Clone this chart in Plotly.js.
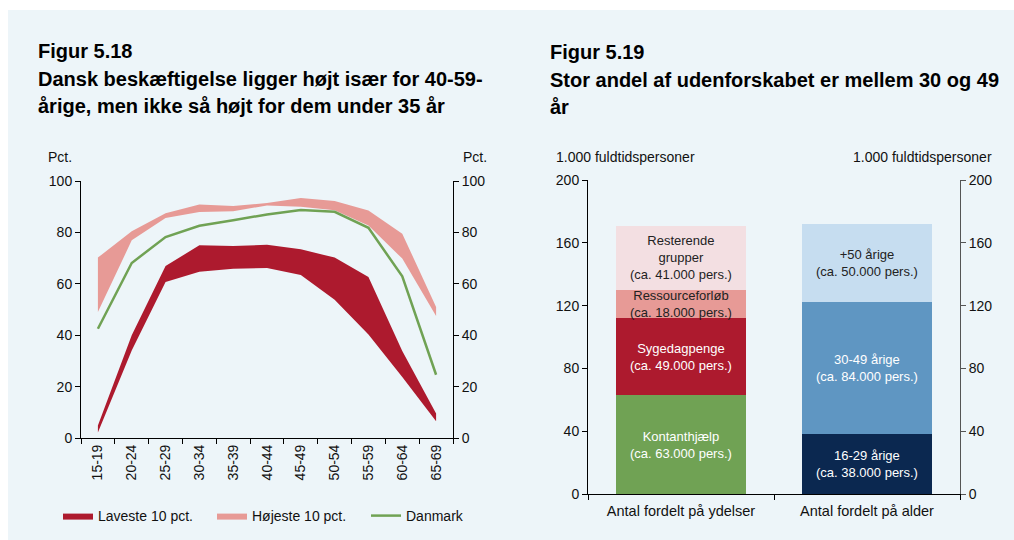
<!DOCTYPE html>
<html>
<head>
<meta charset="utf-8">
<script src="https://cdn.plot.ly/plotly-3.0.1.min.js"></script>
<style>
html,body{margin:0;padding:0;background:#fff;}
#chart{width:1014px;height:540px;}
</style>
</head>
<body>
<div id="chart"></div>
<script>
// ---------- Data: Figur 5.18 ----------
const ageGroups = ['15-19','20-24','25-29','30-34','35-39','40-44','45-49','50-54','55-59','60-64','65-69'];
const lowestTop    = [4.9, 40.0, 66.9, 75.0, 74.7, 75.2, 73.4, 70.2, 62.6, 33.9, 9.5];
const lowestBottom = [2.1, 34.0, 60.7, 64.7, 65.9, 66.1, 63.4, 53.8, 40.3, 23.7, 6.5];
const highestTop    = [70.2, 80.4, 87.5, 90.9, 90.3, 91.4, 93.4, 92.2, 88.5, 79.5, 51.0];
const highestBottom = [49.0, 76.9, 85.6, 87.9, 88.2, 90.5, 90.0, 88.6, 82.7, 69.8, 47.5];
const denmark = [42.5, 68.1, 78.2, 82.6, 84.7, 87.0, 88.7, 88.0, 81.8, 62.9, 24.6];

// ---------- Data: Figur 5.19 ----------
const barCategories = ['Antal fordelt på ydelser', 'Antal fordelt på alder'];
const benefitNames  = ['Kontanthjælp', 'Sygedagpenge', 'Ressourceforløb', 'Resterende<br>grupper'];
const benefitValues = [63, 49, 18, 41];
const ageNames  = ['16-29 årige', '30-49 årige', '+50 årige'];
const ageValues = [38, 84, 50];

// ---------- Styles ----------
const FONT = 'Liberation Sans, Arial, sans-serif';
const darkRed = '#AD1A2E';
const pink = '#E79A96';
const green = '#70A254';
const benefitColors = ['#70A254', '#AD1A2E', '#E79A96', '#F3DFE2'];
const benefitTextColors = ['#ffffff', '#ffffff', '#222222', '#222222'];
const ageColors = ['#0B2850', '#5F96C2', '#C6DDF0'];
const ageTextColors = ['#ffffff', '#ffffff', '#222222'];

const W = 1014, H = 540;
const px = v => v / W;
const py = v => (H - v) / H;

const traces = [];
// Højeste 10 pct. band
traces.push({x: ageGroups, y: highestBottom, xaxis: 'x', yaxis: 'y', mode: 'lines',
  line: {width: 0, color: pink}, showlegend: false, hoverinfo: 'skip'});
traces.push({x: ageGroups, y: highestTop, xaxis: 'x', yaxis: 'y', mode: 'lines',
  line: {width: 0, color: pink}, fill: 'tonexty', fillcolor: pink,
  name: 'Højeste 10 pct.', legendrank: 2});
// Laveste 10 pct. band
traces.push({x: ageGroups, y: lowestBottom, xaxis: 'x', yaxis: 'y', mode: 'lines',
  line: {width: 0, color: darkRed}, showlegend: false, hoverinfo: 'skip'});
traces.push({x: ageGroups, y: lowestTop, xaxis: 'x', yaxis: 'y', mode: 'lines',
  line: {width: 0, color: darkRed}, fill: 'tonexty', fillcolor: darkRed,
  name: 'Laveste 10 pct.', legendrank: 1});
// Danmark
traces.push({x: ageGroups, y: denmark, xaxis: 'x', yaxis: 'y', mode: 'lines',
  line: {width: 2.5, color: green}, name: 'Danmark', legendrank: 3});
// dummy for right axis of left chart
traces.push({x: [ageGroups[0]], y: [0], xaxis: 'x', yaxis: 'y2', mode: 'none',
  showlegend: false, hoverinfo: 'skip'});

// Stacked bars
benefitNames.forEach((n, i) => {
  traces.push({type: 'bar', x: [barCategories[0]], y: [benefitValues[i]], xaxis: 'x3', yaxis: 'y3',
    marker: {color: benefitColors[i], line: {width: 0}}, name: n, showlegend: false});
});
ageNames.forEach((n, i) => {
  traces.push({type: 'bar', x: [barCategories[1]], y: [ageValues[i]], xaxis: 'x3', yaxis: 'y3',
    marker: {color: ageColors[i], line: {width: 0}}, name: n, showlegend: false});
});
traces.push({x: [barCategories[0]], y: [0], xaxis: 'x3', yaxis: 'y4', mode: 'none', type: 'scatter',
  showlegend: false, hoverinfo: 'skip'});

const annotations = [];
function addStackLabels(cat, names, values, colors) {
  let cum = 0;
  values.forEach((v, i) => {
    annotations.push({xref: 'x3', yref: 'y3', x: cat, y: cum + v / 2,
      text: names[i] + '<br>(ca. ' + v + '.000 pers.)', showarrow: false,
      font: {family: FONT, size: 13, color: colors[i]}, align: 'center'});
    cum += v;
  });
}
addStackLabels(barCategories[0], benefitNames, benefitValues, benefitTextColors);
addStackLabels(barCategories[1], ageNames, ageValues, ageTextColors);

function title(text, x, y, bold) {
  annotations.push({xref: 'paper', yref: 'paper', x: px(x), y: py(y), xanchor: 'left', yanchor: 'middle',
    text: bold ? '<b>' + text + '</b>' : text, showarrow: false,
    font: {family: FONT, size: 20, color: '#000'}});
}
title('Figur 5.18', 36, 51, true);
title('Dansk beskæftigelse ligger højt især for 40-59-', 36, 79, true);
title('årige, men ikke så højt for dem under 35 år', 36, 106, true);
title('Figur 5.19', 548, 52, true);
title('Stor andel af udenforskabet er mellem 30 og 49', 548, 80, true);
title('år', 548, 107, true);

function small(text, x, y) {
  annotations.push({xref: 'paper', yref: 'paper', x: px(x), y: py(y), xanchor: 'center', yanchor: 'middle',
    text: text, showarrow: false, font: {family: FONT, size: 14, color: '#111'}});
}
small('Pct.', 60, 157);
small('Pct.', 475, 157);
small('1.000 fuldtidspersoner', 625, 157);
small('1.000 fuldtidspersoner', 922, 157);

const tickFont = {family: FONT, size: 14, color: '#111'};
const axBase = {showgrid: false, zeroline: false, showline: true, linecolor: '#000', linewidth: 1,
  ticks: 'outside', ticklen: 5, tickcolor: '#000', tickfont: tickFont, fixedrange: true};

const layout = {
  width: W, height: H,
  margin: {l: 0, r: 0, t: 0, b: 0},
  paper_bgcolor: '#ffffff',
  plot_bgcolor: 'rgba(0,0,0,0)',
  font: {family: FONT, size: 14, color: '#111'},
  barmode: 'stack',
  bargap: 0.306,
  showlegend: true,
  legend: {orientation: 'h', x: px(58), y: py(516), xanchor: 'left', yanchor: 'middle',
    bgcolor: 'rgba(0,0,0,0)', font: {family: FONT, size: 14, color: '#111'},
    entrywidth: 109, entrywidthmode: 'pixels', traceorder: 'normal'},
  xaxis: Object.assign({}, axBase, {domain: [px(81), px(453)], anchor: 'y', type: 'category',
    tickson: 'boundaries', tickangle: -90, range: [-0.5, 10.5]}),
  yaxis: Object.assign({}, axBase, {domain: [py(438), py(181)], anchor: 'x', range: [0, 100], dtick: 20}),
  yaxis2: Object.assign({}, axBase, {domain: [py(438), py(181)], anchor: 'x', overlaying: 'y', side: 'right',
    range: [0, 100], dtick: 20}),
  xaxis3: Object.assign({}, axBase, {domain: [px(588), px(960)], anchor: 'y3', type: 'category',
    tickson: 'boundaries', range: [-0.5, 1.5], ticklabelstandoff: 4,
    tickfont: {family: FONT, size: 14.5, color: '#111'}}),
  yaxis3: Object.assign({}, axBase, {domain: [py(494), py(180)], anchor: 'x3', range: [0, 200], dtick: 40}),
  yaxis4: Object.assign({}, axBase, {domain: [py(494), py(180)], anchor: 'x3', overlaying: 'y3', side: 'right',
    range: [0, 200], dtick: 40, linecolor: '#555', tickcolor: '#555'}),
  shapes: [{type: 'rect', xref: 'paper', yref: 'paper', x0: px(8), x1: 1, y0: 0, y1: py(10),
    fillcolor: '#EDF5F9', line: {width: 0}, layer: 'below'}],
  annotations: annotations
};

Plotly.newPlot('chart', traces, layout, {displayModeBar: false, staticPlot: true});
</script>
</body>
</html>
